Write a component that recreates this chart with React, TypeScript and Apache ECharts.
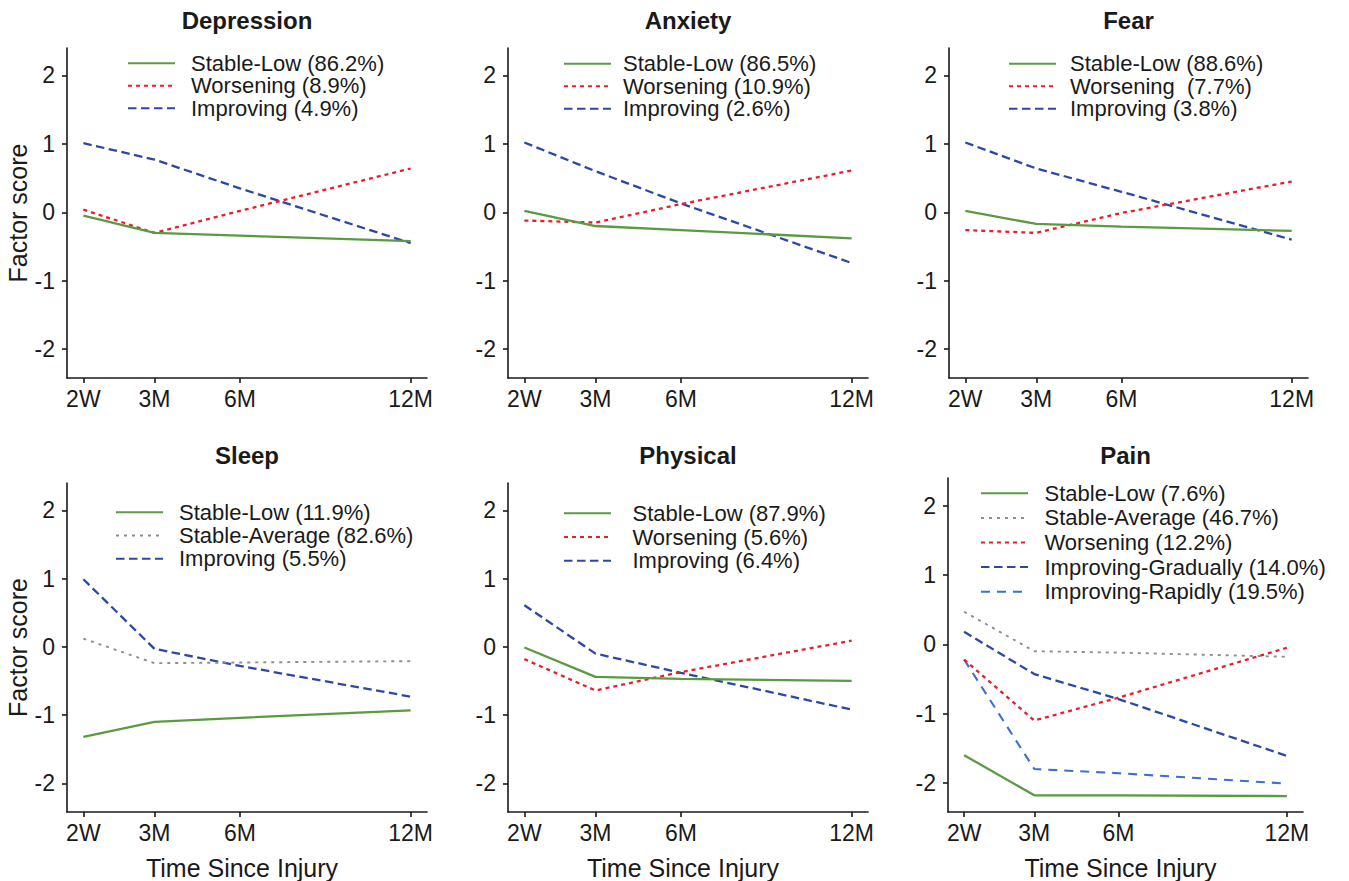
import React, { useEffect, useRef } from "react";
import * as echarts from "echarts";

// ---------- data ----------
const timeLabels = ["2W", "3M", "6M", "12M"];
const timeValues = [0.5, 3, 6, 12];
const yTicks = [-2, -1, 0, 1, 2];
const panelTitles = ["Depression", "Anxiety", "Fear", "Sleep", "Physical", "Pain"];

// Depression
const depNames = ["Stable-Low (86.2%)", "Worsening (8.9%)", "Improving (4.9%)"];
const depStableLow = [-0.05, -0.3, -0.34, -0.42];
const depWorsening = [0.04, -0.3, 0.02, 0.64];
const depImproving = [1.01, 0.77, 0.35, -0.45];

// Anxiety
const anxNames = ["Stable-Low (86.5%)", "Worsening (10.9%)", "Improving (2.6%)"];
const anxStableLow = [0.02, -0.2, -0.26, -0.38];
const anxWorsening = [-0.12, -0.15, 0.12, 0.61];
const anxImproving = [1.02, 0.6, 0.13, -0.74];

// Fear
const fearNames = ["Stable-Low (88.6%)", "Worsening  (7.7%)", "Improving (3.8%)"];
const fearStableLow = [0.02, -0.17, -0.21, -0.27];
const fearWorsening = [-0.26, -0.3, -0.01, 0.45];
const fearImproving = [1.02, 0.64, 0.3, -0.4];

// Sleep
const sleepNames = ["Stable-Low (11.9%)", "Stable-Average (82.6%)", "Improving (5.5%)"];
const sleepStableLow = [-1.32, -1.1, -1.04, -0.93];
const sleepStableAverage = [0.12, -0.24, -0.23, -0.21];
const sleepImproving = [0.99, -0.03, -0.28, -0.73];

// Physical
const physNames = ["Stable-Low (87.9%)", "Worsening (5.6%)", "Improving (6.4%)"];
const physStableLow = [-0.01, -0.44, -0.47, -0.5];
const physWorsening = [-0.18, -0.64, -0.37, 0.09];
const physImproving = [0.61, -0.1, -0.38, -0.92];

// Pain
const painNames = [
  "Stable-Low (7.6%)",
  "Stable-Average (46.7%)",
  "Worsening (12.2%)",
  "Improving-Gradually (14.0%)",
  "Improving-Rapidly (19.5%)",
];
const painStableLow = [-1.6, -2.18, -2.18, -2.19];
const painStableAverage = [0.47, -0.1, -0.12, -0.18];
const painWorsening = [-0.22, -1.1, -0.77, -0.05];
const painImprovingGradually = [0.18, -0.43, -0.79, -1.61];
const painImprovingRapidly = [-0.22, -1.8, -1.86, -2.01];

// ---------- styles / layout ----------
const FONT = "'Liberation Sans', Arial, Helvetica, sans-serif";
const TEXT = "#1a1a1a";

const lineStyles: Record<string, any> = {
  green: { color: "#5b9a43", width: 2.3, type: "solid" },
  red: { color: "#e5202b", width: 2.3, type: [4, 4] },
  blue: { color: "#2b48a8", width: 2.3, type: [8.5, 4.5] },
  gray: { color: "#8d8d8d", width: 1.9, type: [3, 5] },
  lightblue: { color: "#3b6fd4", width: 2.1, type: [9, 7] },
};

const panels = [
  { names: depNames, values: [depStableLow, depWorsening, depImproving], styles: ["green", "red", "blue"] },
  { names: anxNames, values: [anxStableLow, anxWorsening, anxImproving], styles: ["green", "red", "blue"] },
  { names: fearNames, values: [fearStableLow, fearWorsening, fearImproving], styles: ["green", "red", "blue"] },
  { names: sleepNames, values: [sleepStableLow, sleepStableAverage, sleepImproving], styles: ["green", "gray", "blue"] },
  { names: physNames, values: [physStableLow, physWorsening, physImproving], styles: ["green", "red", "blue"] },
  {
    names: painNames,
    values: [painStableLow, painStableAverage, painWorsening, painImprovingGradually, painImprovingRapidly],
    styles: ["green", "gray", "red", "blue", "lightblue"],
  },
];

const grids = [
  { left: 67, top: 48, width: 360, height: 330 },
  { left: 508, top: 48, width: 360, height: 330 },
  { left: 949, top: 48, width: 359, height: 330 },
  { left: 67, top: 483, width: 360, height: 329 },
  { left: 508, top: 483, width: 360, height: 329 },
  { left: 948, top: 478, width: 355, height: 335 },
];

const legends = [
  { left: 127, top: 52, spacing: 22.5, pad: 11 },
  { left: 563, top: 52.5, spacing: 22.5, pad: 7 },
  { left: 1008, top: 52.5, spacing: 22.5, pad: 9 },
  { left: 115, top: 500.5, spacing: 23.3, pad: 11 },
  { left: 563, top: 501.5, spacing: 23.7, pad: 16.5 },
  { left: 980, top: 481, spacing: 24.6, pad: 11.5 },
];

const titleTops = [8, 8, 8, 443, 443, 443];

export default function App() {
  const ref = useRef<HTMLDivElement>(null);

  useEffect(() => {
    if (!ref.current) return;
    const chart = echarts.init(ref.current, null, { renderer: "svg" });

    const axisLine = { show: true, onZero: false, lineStyle: { color: TEXT, width: 1.6 } };
    const axisTickBase = { show: true, length: 5, lineStyle: { color: TEXT, width: 1.6 } };

    const option: any = {
      animation: false,
      backgroundColor: "#ffffff",
      title: panelTitles.map((t, i) => ({
        text: t,
        left: grids[i].left + grids[i].width / 2,
        top: titleTops[i],
        textAlign: "center",
        padding: 0,
        textStyle: { fontFamily: FONT, fontSize: 24, fontWeight: "bold", color: TEXT },
      })),
      grid: grids.map((g) => ({ ...g, containLabel: false })),
      xAxis: grids.map((_, i) => ({
        type: "value",
        gridIndex: i,
        min: -0.075,
        max: 12.575,
        axisLine,
        axisTick: { ...axisTickBase, customValues: timeValues },
        splitLine: { show: false },
        axisLabel: {
          customValues: timeValues,
          margin: 9,
          fontFamily: FONT,
          fontSize: 23,
          color: TEXT,
          formatter: (v: number) => {
            const k = timeValues.indexOf(v);
            return k >= 0 ? timeLabels[k] : "";
          },
        },
        name: i >= 3 ? "Time Since Injury" : "",
        nameLocation: "middle",
        nameGap: 43,
        nameTextStyle: { fontFamily: FONT, fontSize: 25, color: TEXT, padding: [0, 10, 0, 0] },
      })),
      yAxis: grids.map((_, i) => ({
        type: "value",
        gridIndex: i,
        min: -2.42,
        max: 2.4,
        axisLine,
        axisTick: { ...axisTickBase, customValues: yTicks },
        splitLine: { show: false },
        axisLabel: {
          customValues: yTicks,
          margin: 12,
          fontFamily: FONT,
          fontSize: 23,
          color: TEXT,
        },
        name: i % 3 === 0 ? "Factor score" : "",
        nameLocation: "middle",
        nameGap: 23,
        nameRotate: 90,
        nameTextStyle: { fontFamily: FONT, fontSize: 25, color: TEXT },
      })),
      legend: panels.map((p, i) => {
        const L = legends[i];
        return {
          orient: "vertical",
          left: L.left,
          top: L.top,
          padding: 0,
          itemGap: 0,
          itemWidth: 47,
          itemHeight: 14,
          selectedMode: false,
          itemStyle: { opacity: 0 },
          data: p.names,
          formatter: (n: string) => `{t|${n}}`,
          textStyle: {
            fontFamily: FONT,
            fontSize: 22,
            color: TEXT,
            lineHeight: L.spacing,
            rich: {
              t: {
                fontFamily: FONT,
                fontSize: 22,
                color: TEXT,
                lineHeight: L.spacing,
                padding: [0, 0, 0, L.pad],
              },
            },
          },
        };
      }),
      series: panels.flatMap((p, i) =>
        p.names.map((n, j) => ({
          type: "line",
          name: n,
          xAxisIndex: i,
          yAxisIndex: i,
          data: timeValues.map((t, k) => [t, p.values[j][k]]),
          symbol: "none",
          showSymbol: false,
          lineStyle: lineStyles[p.styles[j]],
          itemStyle: { color: lineStyles[p.styles[j]].color },
          color: lineStyles[p.styles[j]].color,
          z: 10 - j,
        }))
      ),
    };

    chart.setOption(option);
    return () => chart.dispose();
  }, []);

  return (
    <div
      ref={ref}
      style={{ position: "fixed", left: 0, top: 0, width: 1349, height: 881, background: "#fff" }}
    />
  );
}
